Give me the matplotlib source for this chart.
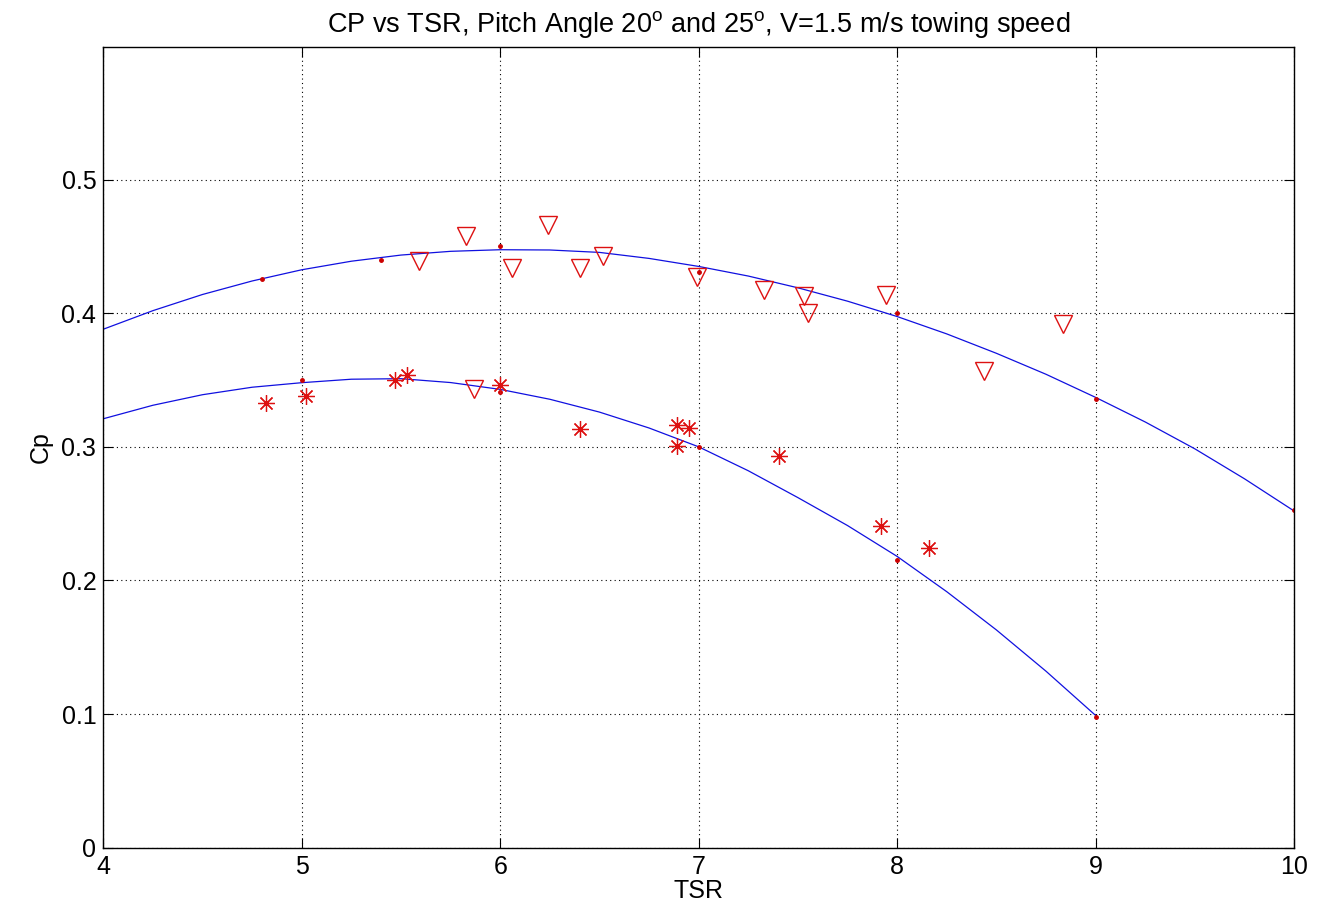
import matplotlib.pyplot as plt
import numpy as np

# fitted curves
fit_x_hi = [4.0, 4.25, 4.5, 4.75, 5.0, 5.25, 5.5, 5.75, 6.0, 6.25, 6.5, 6.75, 7.0,
            7.25, 7.5, 7.75, 8.0, 8.25, 8.5, 8.75, 9.0, 9.25, 9.5, 9.75, 10.0]
fit_y_hi = [0.388, 0.4019, 0.414, 0.4241, 0.4325, 0.4389, 0.4435, 0.4463, 0.4475, 0.4473,
            0.4455, 0.441, 0.435, 0.4278, 0.419, 0.409, 0.3975, 0.3845, 0.370, 0.3543,
            0.337, 0.3186, 0.2985, 0.2761, 0.252]
fit_x_lo = [4.0, 4.25, 4.5, 4.75, 5.0, 5.25, 5.5, 5.75, 6.0, 6.25, 6.5, 6.75, 7.0,
            7.25, 7.5, 7.75, 8.0, 8.25, 8.5, 8.75, 9.0]
fit_y_lo = [0.321, 0.3311, 0.339, 0.3446, 0.348, 0.3506, 0.351, 0.3481, 0.343, 0.3356,
            0.326, 0.3141, 0.300, 0.2821, 0.262, 0.2411, 0.218, 0.1916, 0.163, 0.1321, 0.099]

# small dots the curves were fitted to
dot_x_hi = [4.8, 5.4, 6.0, 7.0, 8.0, 9.0, 10.0]
dot_y_hi = [0.4256, 0.440, 0.450, 0.4306, 0.400, 0.3356, 0.2524]
dot_x_lo = [5.0, 6.0, 7.0, 8.0, 9.0]
dot_y_lo = [0.350, 0.341, 0.300, 0.2154, 0.0975]

# measured points, pitch 20 deg (triangles)
tri_x = [5.59, 5.83, 6.06, 6.24, 6.40, 6.52, 5.87, 6.99, 7.33, 7.53, 7.55, 7.945, 8.44, 8.835]
tri_y = [0.439, 0.4576, 0.434, 0.466, 0.434, 0.4426, 0.343, 0.427, 0.417, 0.413, 0.400, 0.4136, 0.357, 0.392]

# measured points, pitch 25 deg (asterisks)
star_x = [4.82, 5.02, 5.47, 5.53, 6.0, 6.40, 6.89, 6.95, 6.89, 7.405, 7.92, 8.16]
star_y = [0.3326, 0.338, 0.350, 0.354, 0.346, 0.3136, 0.316, 0.3144, 0.3006, 0.293, 0.2406, 0.224]

plt.rcParams['font.family'] = ['Liberation Sans', 'DejaVu Sans']

fig = plt.figure(figsize=(13.17, 9.09), dpi=100)
ax = fig.add_axes([0.0784, 0.0674, 0.9042, 0.8806])

ax.plot(fit_x_hi, fit_y_hi, color='#1010e0', lw=0.9)
ax.plot(fit_x_lo, fit_y_lo, color='#1010e0', lw=0.9)
ax.plot(dot_x_hi, dot_y_hi, '.', color='#cc0000', ms=5)
ax.plot(dot_x_lo, dot_y_lo, '.', color='#cc0000', ms=5)
ax.plot(tri_x, tri_y, 'v', mfc='none', mec='#dd1111', ms=13, mew=1.0)
ax.plot(star_x, star_y, ls='none', marker=(8, 2, 0), color='#dd1111', ms=12, mew=0.9)

ax.set_xlim(4, 10)
ax.set_ylim(0, 0.599)
ax.set_xticks(np.arange(4, 11, 1))
ax.set_yticks(np.arange(0, 0.51, 0.1))
ax.set_yticklabels(['0', '0.1', '0.2', '0.3', '0.4', '0.5'])
ax.grid(True, ls=(0, (1, 3)), color='black', lw=0.8)
ax.tick_params(direction='in', length=7, top=True, right=True, labelsize=18, pad=5)
for s in ax.spines.values():
    s.set_linewidth(1.0)

ax.set_xlabel('TSR', fontsize=18, labelpad=0)
ax.set_ylabel('Cp', fontsize=18, labelpad=6)
ax.set_title(r'CP vs TSR, Pitch Angle 20$^{\mathregular{o}}$ and 25$^{\mathregular{o}}$, V=1.5 m/s towing speed',
             fontsize=19.5, pad=11)

fig.savefig('out.png', dpi=100)
